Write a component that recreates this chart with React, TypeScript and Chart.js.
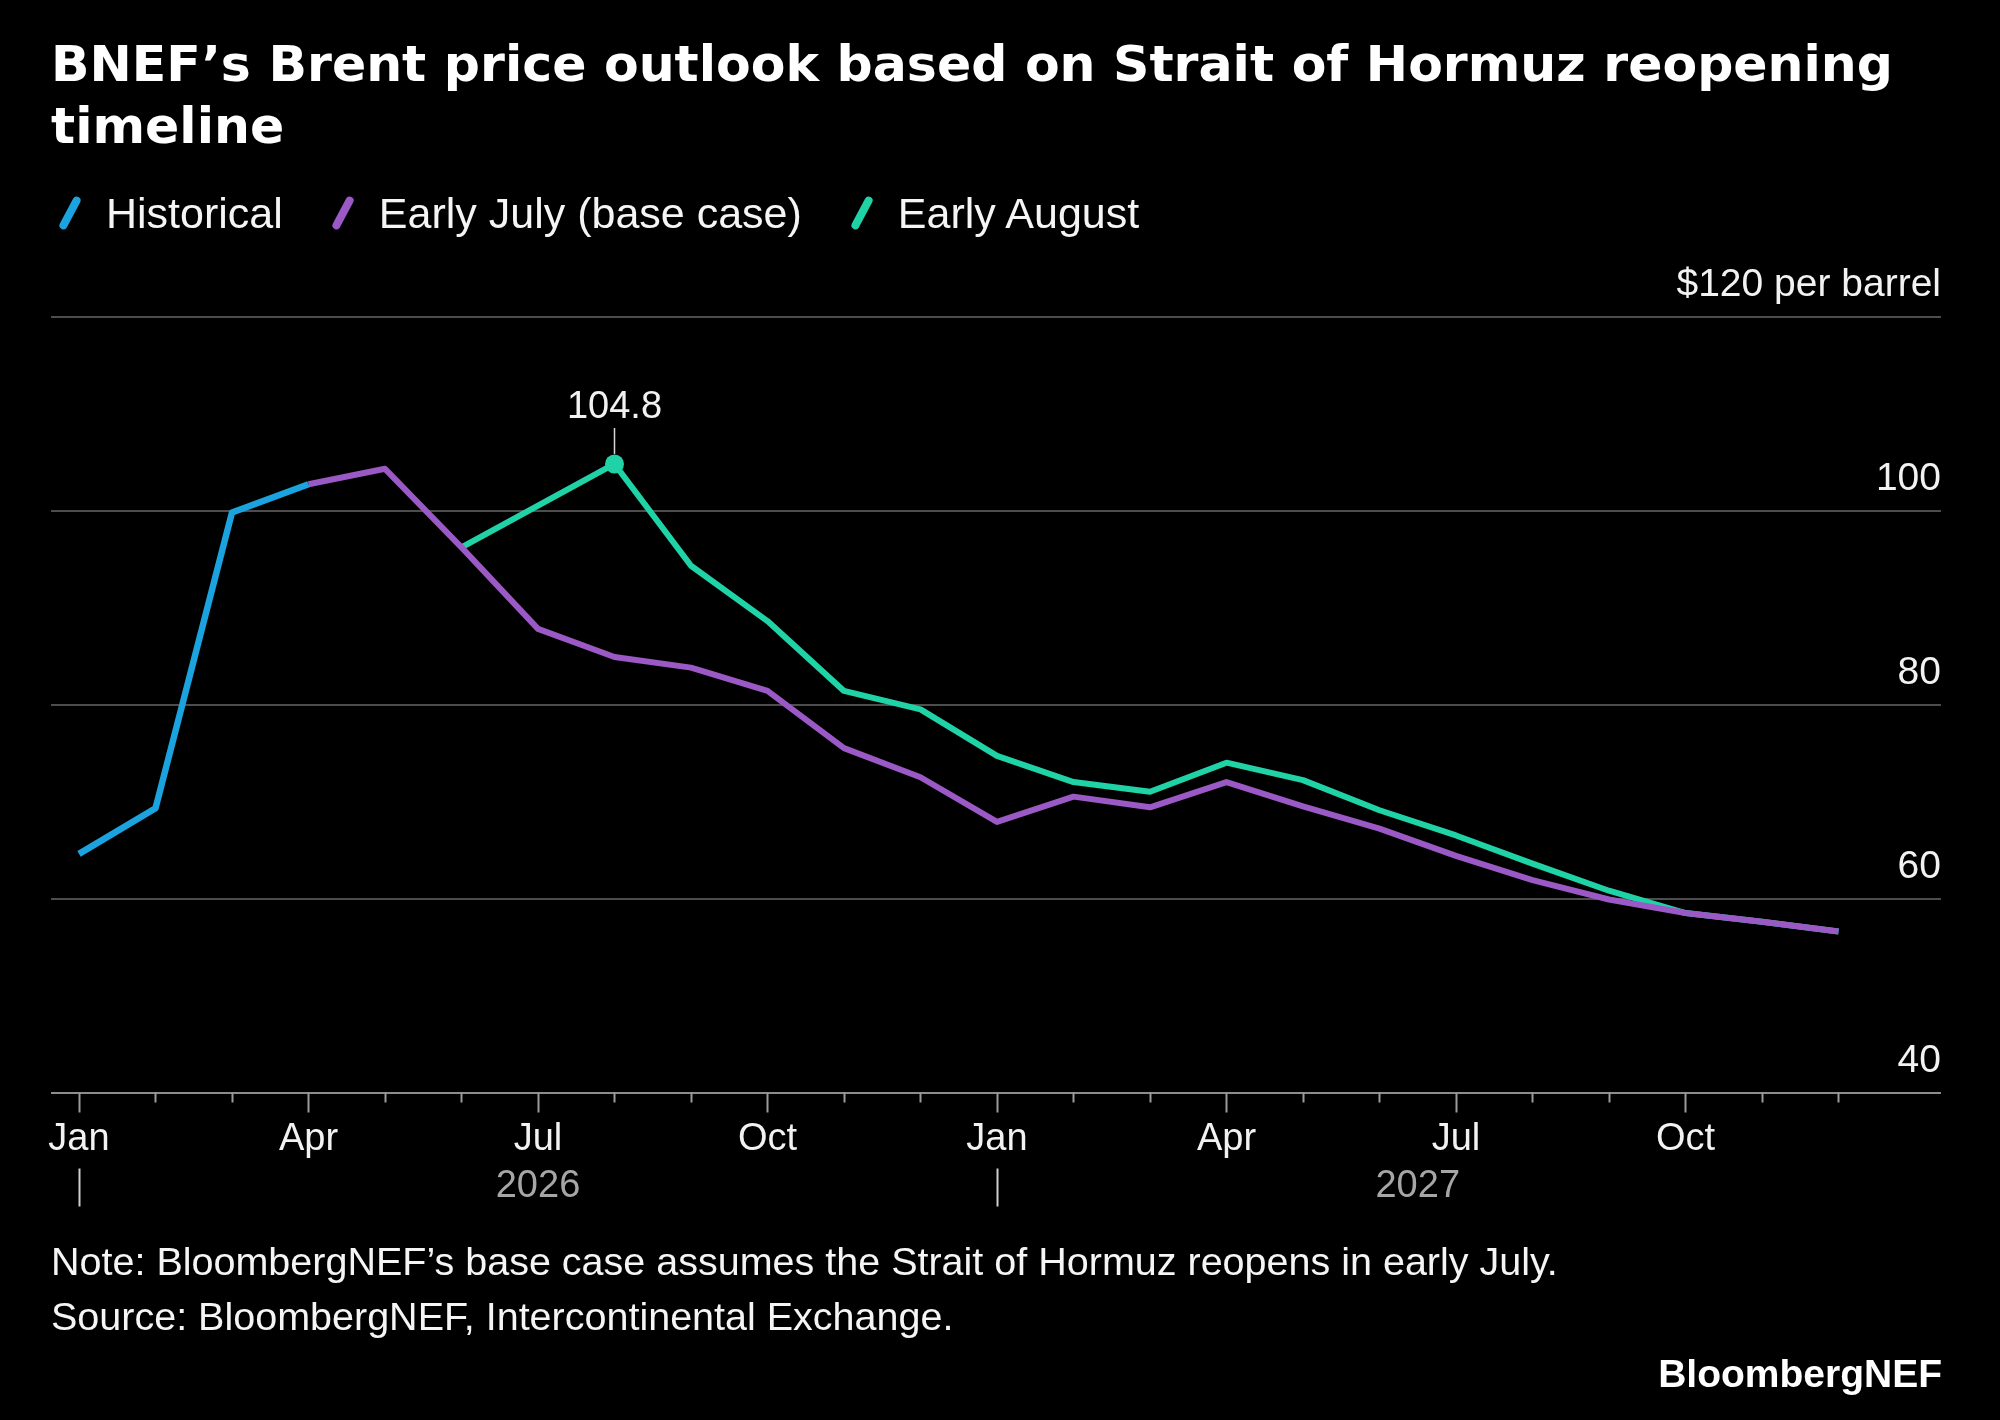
import { useEffect, useRef } from "react";
import { Chart, registerables } from "chart.js";

Chart.register(...registerables);

const months = ["Jan", "Feb", "Mar", "Apr", "May", "Jun", "Jul", "Aug", "Sep", "Oct", "Nov", "Dec"];
const years = ["2026", "2027"];

// monthly Brent, $/bbl
const historicalStart = 0; // Jan 2026
const historical = [64.6, 69.3, 99.8, 102.7];

const earlyJulyStart = 3; // Apr 2026
const earlyJuly = [
  102.7, 104.3, 96.2, 87.8, 84.9, 83.8, 81.4, 75.5, 72.5,
  67.9, 70.5, 69.4, 72.0, 69.5, 67.2, 64.4, 61.9, 59.9, 58.5, 57.6, 56.6,
];

const earlyAugustStart = 5; // Jun 2026
const earlyAugust = [
  96.2, 100.5, 104.8, 94.3, 88.6, 81.4, 79.5,
  74.7, 72.0, 71.0, 74.0, 72.2, 69.1, 66.5, 63.6, 60.8, 58.5, 57.6, 56.6,
];

const yTicks = [40, 60, 80, 100, 120];
const peak = { x: 7, y: 104.8, label: "104.8" };

const BLUE = "#1ba3df";
const PURPLE = "#9b59c6";
const GREEN = "#1fd3a6";
const BODY_FONT = '"Liberation Sans", Arial, sans-serif';
const TITLE_FONT = '"DejaVu Sans", Verdana, sans-serif';
const X_AXIS_H = 100;

const toPoints = (vals: number[], start: number) => vals.map((y, i) => ({ x: start + i, y }));

const axisExtras = {
  id: "axisExtras",
  afterDatasetsDraw(chart: any) {
    const { ctx, chartArea } = chart;
    const xs = chart.scales.x;
    const ys = chart.scales.y;
    const bottom = chartArea.bottom;
    ctx.save();
    ctx.strokeStyle = "#9a9a9a";
    ctx.lineWidth = 2;
    const n = months.length * years.length;
    for (let i = 0; i < n; i++) {
      const px = Math.round(xs.getPixelForValue(i)) + 0.5;
      ctx.beginPath();
      ctx.moveTo(px, bottom);
      ctx.lineTo(px, bottom + (i % 3 === 0 ? 20 : 10));
      ctx.stroke();
    }
    ctx.font = `38px ${BODY_FONT}`;
    ctx.fillStyle = "#a6a6a6";
    ctx.textAlign = "center";
    ctx.textBaseline = "alphabetic";
    years.forEach((yr, k) => {
      const start = xs.getPixelForValue(k * 12);
      const end =
        k === years.length - 1 ? xs.getPixelForValue(k * 12 + 11) : xs.getPixelForValue((k + 1) * 12);
      const sx = Math.round(start) + 0.5;
      ctx.strokeStyle = "#cfcfcf";
      ctx.beginPath();
      ctx.moveTo(sx, bottom + 76);
      ctx.lineTo(sx, bottom + 114);
      ctx.stroke();
      ctx.fillText(yr, (start + end) / 2, bottom + 104);
    });

    // peak callout
    const px = xs.getPixelForValue(peak.x);
    const py = ys.getPixelForValue(peak.y);
    ctx.strokeStyle = "#d9d9d9";
    ctx.lineWidth = 1.5;
    ctx.beginPath();
    ctx.moveTo(px, py - 10);
    ctx.lineTo(px, py - 36);
    ctx.stroke();
    ctx.fillStyle = "#f2f2f2";
    ctx.font = `38px ${BODY_FONT}`;
    ctx.fillText(peak.label, px, py - 46);
    ctx.restore();
  },
};

const legendItems = [
  { label: "Historical", color: BLUE },
  { label: "Early July (base case)", color: PURPLE },
  { label: "Early August", color: GREEN },
];

export default function App() {
  const canvasRef = useRef<HTMLCanvasElement>(null);

  useEffect(() => {
    const canvas = canvasRef.current;
    if (!canvas) return;
    const chart = new Chart(canvas, {
      type: "line",
      data: {
        datasets: [
          { label: "Historical", data: toPoints(historical, historicalStart), borderColor: BLUE, order: 0, borderWidth: 6.5 },
          { label: "Early July (base case)", data: toPoints(earlyJuly, earlyJulyStart), borderColor: PURPLE, order: 1 },
          {
            label: "Early August",
            data: toPoints(earlyAugust, earlyAugustStart),
            borderColor: GREEN,
            backgroundColor: GREEN,
            order: 2,
            pointRadius: (c: any) => (c.raw && c.raw.x === peak.x ? 9.5 : 0),
          },
        ],
      },
      options: {
        animation: false,
        responsive: true,
        maintainAspectRatio: false,
        layout: { padding: { left: 51, right: 59, top: 316.5, bottom: 1420 - 1092.5 - X_AXIS_H } },
        plugins: { legend: { display: false }, tooltip: { enabled: false } },
        elements: {
          line: { borderWidth: 6, tension: 0, borderJoinStyle: "round" },
          point: { radius: 0, hoverRadius: 0, borderWidth: 0 },
        },
        scales: {
          x: {
            type: "linear",
            min: -0.366,
            max: 24.34,
            afterBuildTicks: (s: any) => {
              s.ticks = Array.from({ length: months.length * years.length }, (_, i) => ({ value: i }));
            },
            afterFit: (s: any) => {
              s.height = X_AXIS_H;
            },
            grid: { display: false },
            border: { display: false },
            ticks: {
              autoSkip: false,
              maxRotation: 0,
              padding: 16,
              color: "#f2f2f2",
              font: { family: BODY_FONT, size: 38 },
              callback: (v: any) => (Number(v) % 3 === 0 ? months[Number(v) % 12] : ""),
            },
          },
          y: {
            position: "right",
            min: 40,
            max: 120,
            afterBuildTicks: (s: any) => {
              s.ticks = yTicks.map((value) => ({ value }));
            },
            afterFit: (s: any) => {
              s.width = 0;
            },
            grid: {
              drawTicks: false,
              lineWidth: 2,
              color: (c: any) => (c.tick && c.tick.value === 40 ? "#8c8c8c" : "#4d4d4d"),
            },
            border: { display: false },
            ticks: {
              mirror: true,
              padding: 0,
              labelOffset: -31,
              color: "#f2f2f2",
              font: { family: BODY_FONT, size: 39 },
              callback: (v: any) => (Number(v) === 120 ? "$120 per barrel" : String(v)),
            },
          },
        },
      } as any,
      plugins: [axisExtras],
    });
    return () => chart.destroy();
  }, []);

  return (
    <div
      style={{
        position: "fixed",
        left: 0,
        top: 0,
        width: 2000,
        height: 1420,
        background: "#000",
        color: "#f5f5f5",
        fontFamily: BODY_FONT,
        overflow: "hidden",
      }}
    >
      <div style={{ position: "absolute", left: 0, top: 0, width: 2000, height: 1420 }}>
        <canvas ref={canvasRef} />
      </div>

      <div
        style={{
          position: "absolute",
          left: 51,
          top: 33,
          fontFamily: TITLE_FONT,
          fontWeight: 700,
          fontSize: 50.5,
          lineHeight: "62px",
          whiteSpace: "nowrap",
          color: "#fff",
        }}
      >
        BNEF’s Brent price outlook based on Strait of Hormuz reopening
        <br />
        timeline
      </div>

      <div
        style={{
          position: "absolute",
          left: 58,
          top: 188,
          display: "flex",
          alignItems: "center",
          fontSize: 43,
          lineHeight: "50px",
          whiteSpace: "nowrap",
        }}
      >
        {legendItems.map((it) => (
          <div key={it.label} style={{ display: "flex", alignItems: "center", marginRight: 48 }}>
            <span style={{ position: "relative", width: 24, height: 38, display: "inline-block" }}>
              <span
                style={{
                  position: "absolute",
                  left: 8,
                  top: 1,
                  width: 8,
                  height: 36,
                  borderRadius: 4,
                  background: it.color,
                  transform: "rotate(28deg)",
                }}
              />
            </span>
            <span style={{ marginLeft: 24 }}>{it.label}</span>
          </div>
        ))}
      </div>

      <div style={{ position: "absolute", left: 51, top: 1234, fontSize: 39.5, lineHeight: "55px", whiteSpace: "nowrap" }}>
        <div>Note: BloombergNEF’s base case assumes the Strait of Hormuz reopens in early July.</div>
        <div>Source: BloombergNEF, Intercontinental Exchange.</div>
      </div>

      <div
        style={{
          position: "absolute",
          right: 58,
          top: 1349,
          fontSize: 39,
          fontWeight: 700,
          lineHeight: "50px",
          color: "#fff",
        }}
      >
        BloombergNEF
      </div>
    </div>
  );
}
